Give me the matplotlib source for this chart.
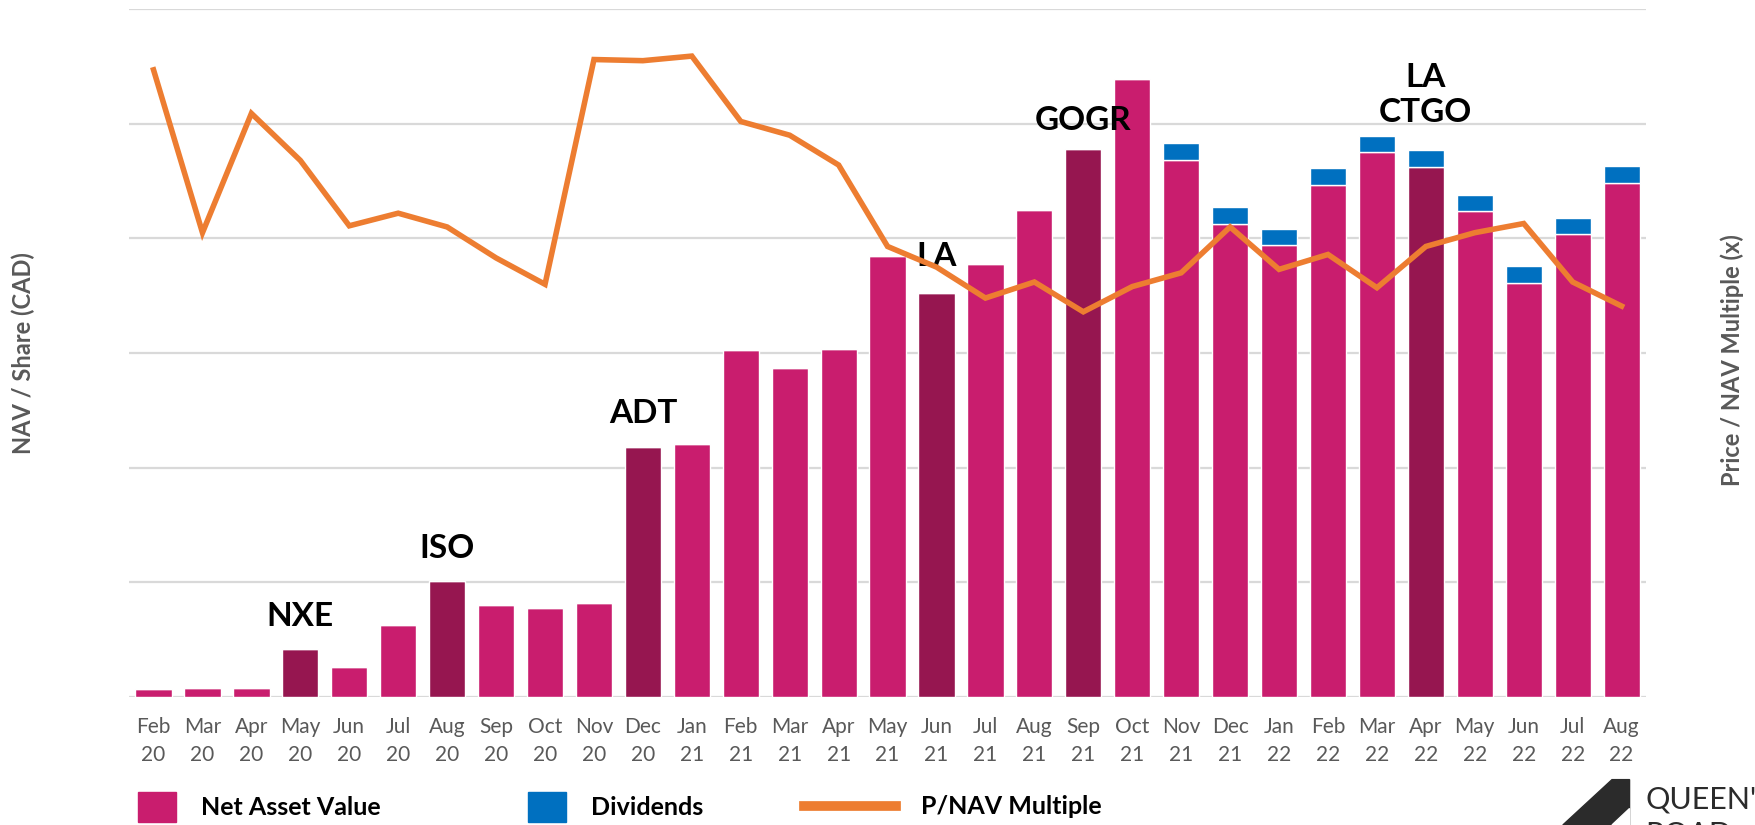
import numpy as np
import matplotlib.pyplot as plt
from matplotlib.patches import Patch, Polygon
from matplotlib.lines import Line2D

plt.rcParams['font.family'] = ['Lato', 'DejaVu Sans']

months = ['Feb\n20', 'Mar\n20', 'Apr\n20', 'May\n20', 'Jun\n20', 'Jul\n20', 'Aug\n20',
          'Sep\n20', 'Oct\n20', 'Nov\n20', 'Dec\n20', 'Jan\n21', 'Feb\n21', 'Mar\n21',
          'Apr\n21', 'May\n21', 'Jun\n21', 'Jul\n21', 'Aug\n21', 'Sep\n21', 'Oct\n21',
          'Nov\n21', 'Dec\n21', 'Jan\n22', 'Feb\n22', 'Mar\n22', 'Apr\n22', 'May\n22',
          'Jun\n22', 'Jul\n22', 'Aug\n22']

# NAV per share (chart units, axis labels are hidden in the original)
nav = [0.07, 0.08, 0.08, 0.42, 0.26, 0.63, 1.01, 0.80, 0.78, 0.82, 2.18, 2.21,
       3.03, 2.87, 3.04, 3.85, 3.52, 3.78, 4.25, 4.78, 5.39, 4.68, 4.13, 3.94,
       4.47, 4.75, 4.62, 4.24, 3.61, 4.04, 4.48]
dividends = [0, 0, 0, 0, 0, 0, 0, 0, 0, 0, 0, 0, 0, 0, 0, 0, 0, 0, 0, 0, 0,
             0.15, 0.14, 0.14, 0.14, 0.14, 0.15, 0.14, 0.15, 0.14, 0.15]
# P/NAV multiple (x)
pnav = [1.094, 0.810, 1.018, 0.936, 0.822, 0.844, 0.820, 0.766, 0.720, 1.112,
        1.110, 1.118, 1.004, 0.980, 0.928, 0.786, 0.750, 0.696, 0.724, 0.672,
        0.716, 0.740, 0.820, 0.746, 0.772, 0.714, 0.786, 0.810, 0.826, 0.724, 0.682]

# deals highlighted in darker bars
deals = {3: 'NXE', 6: 'ISO', 10: 'ADT', 16: 'LA', 19: 'GOGR', 26: 'LA\nCTGO'}
label_y = {3: 0.70, 6: 1.30, 10: 2.47, 16: 3.84, 19: 5.03, 26: 5.25}

pink = '#C91D6E'
dark = '#961650'
blue = '#0070C0'
orange = '#ED7D31'

fig = plt.figure(figsize=(17.56, 8.25), dpi=100)
ax = fig.add_axes([0.0735, 0.155, 0.8639, 0.834])

x = np.arange(len(months))
colors = [dark if i in deals else pink for i in x]
ax.bar(x, nav, width=0.74, color=colors, edgecolor='white', linewidth=1, zorder=2)
ax.bar(x, dividends, bottom=nav, width=0.74, color=blue, edgecolor='white',
       linewidth=1, zorder=2)

for i, name in deals.items():
    ax.text(i, label_y[i], name, ha='center', va='center', fontsize=24,
            fontweight='bold', color='black', linespacing=1.25, zorder=4)

ax.set_xlim(-0.5, len(months) - 0.5)
ax.set_ylim(0, 6)
ax.set_yticks(np.arange(0, 7, 1))
ax.yaxis.grid(True, color='#D9D9D9', linewidth=1.6, zorder=0)
ax.set_axisbelow(True)
ax.set_xticks(x)
ax.set_xticklabels(months, fontsize=15, color='#595959', linespacing=1.55)
ax.tick_params(axis='x', length=0, pad=14)
for s in ax.spines.values():
    s.set_visible(False)
ax.set_ylabel('NAV / Share (CAD)', fontsize=17, fontweight='bold', color='#595959')
ax.yaxis.set_label_coords(-0.062, 0.5)

ax2 = ax.twinx()
ax2.plot(x, pnav, color=orange, linewidth=4, solid_joinstyle='miter', zorder=3)
ax2.set_ylim(0, 1.2)
for s in ax2.spines.values():
    s.set_visible(False)
ax2.set_ylabel('Price / NAV Multiple (x)', fontsize=17, fontweight='bold',
               color='#595959')
ax2.yaxis.set_label_coords(1.049, 0.49)

# twinx turns the left ticks back on, so hide ticks afterwards
ax.tick_params(axis='y', left=False, right=False, labelleft=False)
ax2.tick_params(axis='y', left=False, right=False, labelright=False)

# legend along the bottom
leg_kw = dict(frameon=False, prop={'weight': 'bold', 'size': 18},
              handletextpad=1.0, borderaxespad=0, loc='center left')
fig.legend(handles=[Patch(color=pink, label='Net Asset Value')],
           bbox_to_anchor=(0.073, 0.022), handlelength=1.5, handleheight=1.5, **leg_kw)
fig.legend(handles=[Patch(color=blue, label='Dividends')],
           bbox_to_anchor=(0.295, 0.022), handlelength=1.5, handleheight=1.5, **leg_kw)
fig.legend(handles=[Line2D([], [], color=orange, linewidth=7, label='P/NAV Multiple')],
           bbox_to_anchor=(0.452, 0.022), handlelength=3.7, **leg_kw)

# partial company logo in the bottom-right corner (cut off at the edge, as in the source)
fig.patches.append(Polygon([[0.890, 0.0], [0.918, 0.055], [0.928, 0.055], [0.928, 0.0]],
                           closed=True, transform=fig.transFigure, color='#2B2B2B'))
fig.patches.append(Polygon([[0.918, 0.0], [0.928, 0.02], [0.928, 0.0]], closed=True,
                           transform=fig.transFigure, color='white'))
fig.text(0.937, 0.031, 'QUEEN\'S', fontsize=22, color='#2B2B2B', va='center',
         ha='left')
fig.text(0.937, -0.012, 'ROAD', fontsize=22, color='#2B2B2B', va='center',
         ha='left')

fig.savefig('out.png', dpi=100)
